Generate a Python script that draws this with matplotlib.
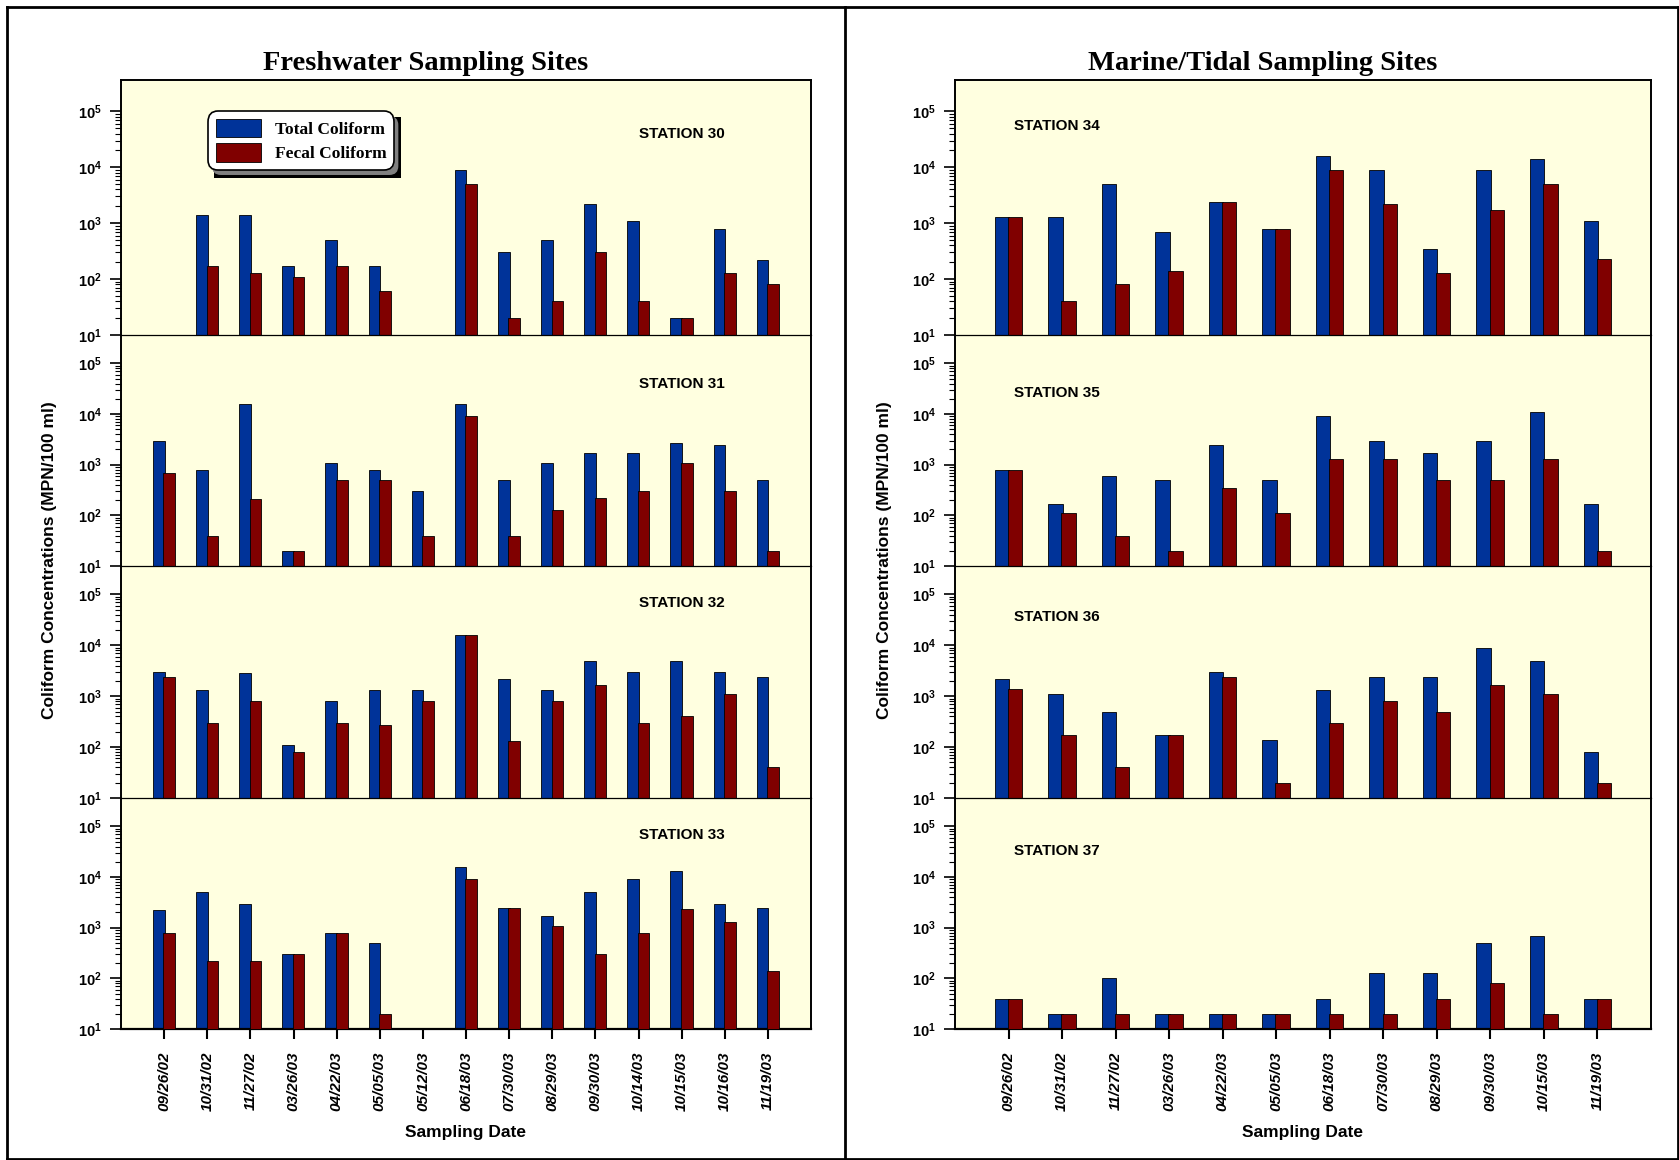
import numpy as np
import matplotlib
matplotlib.use('Agg')
import matplotlib.pyplot as plt
from matplotlib.ticker import FixedLocator, LogFormatterMathtext, NullFormatter
from matplotlib.patches import Rectangle, FancyBboxPatch
from matplotlib.lines import Line2D
from matplotlib.transforms import IdentityTransform

plt.rcParams['font.family'] = ['Liberation Sans', 'DejaVu Sans']
plt.rcParams['font.weight'] = 'bold'
plt.rcParams['mathtext.fontset'] = 'custom'
plt.rcParams['mathtext.rm'] = 'Liberation Sans:bold'
plt.rcParams['mathtext.bf'] = 'Liberation Sans:bold'

nan = np.nan

# sampling dates
fresh_dates = ['09/26/02', '10/31/02', '11/27/02', '03/26/03', '04/22/03', '05/05/03', '05/12/03',
               '06/18/03', '07/30/03', '08/29/03', '09/30/03', '10/14/03', '10/15/03', '10/16/03', '11/19/03']
marine_dates = ['09/26/02', '10/31/02', '11/27/02', '03/26/03', '04/22/03', '05/05/03',
                '06/18/03', '07/30/03', '08/29/03', '09/30/03', '10/15/03', '11/19/03']

# freshwater stations (MPN/100 ml)
st30_total = [nan, 1400, 1400, 170, 500, 170, nan, 9000, 300, 500, 2200, 1100, 20, 800, 220]
st30_fecal = [nan, 170, 130, 110, 170, 60, nan, 5000, 20, 40, 300, 40, 20, 130, 80]
st31_total = [3000, 800, 16000, 20, 1100, 800, 300, 16000, 500, 1100, 1700, 1700, 2700, 2400, 500]
st31_fecal = [700, 40, 210, 20, 500, 500, 40, 9000, 40, 130, 220, 300, 1100, 300, 20]
st32_total = [3000, 1300, 2800, 110, 800, 1300, 1300, 16000, 2200, 1300, 5000, 3000, 5000, 3000, 2400]
st32_fecal = [2400, 300, 800, 80, 300, 270, 800, 16000, 130, 800, 1700, 300, 400, 1100, 40]
st33_total = [2200, 5000, 3000, 300, 800, 500, nan, 16000, 2400, 1700, 5000, 9000, 13000, 3000, 2400]
st33_fecal = [800, 220, 220, 300, 800, 20, nan, 9000, 2400, 1100, 300, 800, 2300, 1300, 140]

# marine/tidal stations
st34_total = [1300, 1300, 5000, 700, 2400, 800, 16000, 9000, 350, 9000, 14000, 1100]
st34_fecal = [1300, 40, 80, 140, 2400, 800, 9000, 2200, 130, 1700, 5000, 230]
st35_total = [800, 170, 600, 500, 2400, 500, 9000, 3000, 1700, 3000, 11000, 170]
st35_fecal = [800, 110, 40, 20, 340, 110, 1300, 1300, 500, 500, 1300, 20]
st36_total = [2200, 1100, 500, 170, 3000, 140, 1300, 2400, 2400, 9000, 5000, 80]
st36_fecal = [1400, 170, 40, 170, 2400, 20, 300, 800, 500, 1700, 1100, 20]
st37_total = [40, 20, 100, 20, 20, 20, 40, 130, 130, 500, 700, 40]
st37_fecal = [40, 20, 20, 20, 20, 20, 20, 20, 40, 80, 20, 40]

fresh = [('STATION 30', st30_total, st30_fecal), ('STATION 31', st31_total, st31_fecal),
         ('STATION 32', st32_total, st32_fecal), ('STATION 33', st33_total, st33_fecal)]
marine = [('STATION 34', st34_total, st34_fecal), ('STATION 35', st35_total, st35_fecal),
          ('STATION 36', st36_total, st36_fecal), ('STATION 37', st37_total, st37_fecal)]

W, H = 1679, 1160
def fx(px):
    return px / W
def fy(py):
    return 1 - py / H

fig = plt.figure(figsize=(W / 100, H / 100), dpi=100)

rows = [80, 335, 566, 798, 1029]
blue = '#003399'
red = '#800000'
bg = '#FFFFE0'

def make_side(panels, dates, x0, x1, lab_x, lab_ha, lab_y):
    axes = []
    x = np.arange(len(dates))
    for i, (name, tot, fec) in enumerate(panels):
        ax = fig.add_axes([fx(x0), fy(rows[i + 1]), fx(x1) - fx(x0), (rows[i + 1] - rows[i]) / H])
        ax.set_facecolor(bg)
        ax.set_yscale('log')
        tot = np.array(tot, dtype=float)
        fec = np.array(fec, dtype=float)
        ax.bar(x - 0.125, tot - 10, bottom=10, width=0.27, color=blue, edgecolor='black',
               linewidth=0.6, label='Total Coliform', zorder=2)
        ax.bar(x + 0.12, fec - 10, bottom=10, width=0.27, color=red, edgecolor='black',
               linewidth=0.6, label='Fecal Coliform', zorder=3)
        ax.set_xlim(-1, len(dates))
        ax.set_ylim(10, 10 ** 5.56)
        ax.yaxis.set_major_locator(FixedLocator([10, 100, 1e3, 1e4, 1e5]))
        ax.yaxis.set_major_formatter(LogFormatterMathtext())
        ax.yaxis.set_minor_locator(FixedLocator([k * 10 ** d for d in range(1, 5) for k in range(2, 10)]))
        ax.yaxis.set_minor_formatter(NullFormatter())
        ax.tick_params(axis='y', which='major', direction='out', length=8, width=1.2, labelsize=10.5, pad=6)
        ax.tick_params(axis='y', which='minor', direction='out', length=4.5, width=0.8)
        for s in ['left', 'right']:
            ax.spines[s].set_linewidth(1.4)
        # panel separators: top spine of each lower panel (drawn over the panel above)
        if i == 0:
            ax.spines['top'].set_linewidth(1.4)
        else:
            ax.spines['top'].set_linewidth(0.9)
        if i < 3:
            ax.spines['bottom'].set_visible(False)
            ax.tick_params(axis='x', bottom=False, labelbottom=False)
        else:
            ax.spines['bottom'].set_linewidth(1.6)
            ax.set_xticks(x)
            ax.set_xticklabels(dates, rotation=90, fontstyle='italic', fontsize=11)
            ax.tick_params(axis='x', direction='out', length=7.5, width=1.5, pad=9)
        ax.text(lab_x, lab_y[i], name, transform=ax.transAxes, ha=lab_ha, va='center', fontsize=11)
        axes.append(ax)
    return axes

left_axes = make_side(fresh, fresh_dates, 121, 811, 0.813, 'center', [0.79, 0.79, 0.84, 0.84])
right_axes = make_side(marine, marine_dates, 955, 1651, 0.085, 'left', [0.82, 0.75, 0.78, 0.77])

# legend
ax0 = left_axes[0]
leg = ax0.legend(loc='upper left', bbox_to_anchor=(0.126, 0.878), borderaxespad=0,
                 prop={'family': 'Liberation Serif', 'weight': 'bold', 'size': 12.5},
                 fancybox=True, framealpha=1, edgecolor='black', handlelength=2.6, handleheight=1.25,
                 handletextpad=0.8, labelspacing=0.3, borderpad=0.45)
leg.get_frame().set_boxstyle('round', pad=0, rounding_size=0.6)
leg.get_frame().set_linewidth(1.2)
leg.set_zorder(6)
fig.canvas.draw()
bb = leg.get_window_extent()
ax0.add_patch(Rectangle((bb.x0 + 6, bb.y0 - 8), bb.width + 1, bb.height + 2, transform=IdentityTransform(),
                        facecolor='black', edgecolor='none', zorder=4, clip_on=False))
ax0.add_patch(FancyBboxPatch((bb.x0 + 4, bb.y0 - 5), bb.width, bb.height,
                             boxstyle='round,pad=0,rounding_size=9', transform=IdentityTransform(),
                             facecolor='0.5', edgecolor='none', zorder=5, clip_on=False))

# titles and axis labels
fig.text(fx(426), fy(63), 'Freshwater Sampling Sites', family='Liberation Serif', weight='bold',
         fontsize=20.5, ha='center', va='center')
fig.text(fx(1263), fy(63), 'Marine/Tidal Sampling Sites', family='Liberation Serif', weight='bold',
         fontsize=20.5, ha='center', va='center')
fig.text(fx(50), fy(560), 'Coliform Concentrations (MPN/100 ml)', rotation=90, fontsize=12.5,
         ha='center', va='center')
fig.text(fx(884), fy(560), 'Coliform Concentrations (MPN/100 ml)', rotation=90, fontsize=12.5,
         ha='center', va='center')
fig.text(fx(466), fy(1133), 'Sampling Date', fontsize=12.5, ha='center', va='center')
fig.text(fx(1303), fy(1133), 'Sampling Date', fontsize=12.5, ha='center', va='center')

# outer frame and divider
for (xa, ya, xb, yb) in [(7, 7, 1678, 7), (7, 1159, 1678, 1159), (7, 7, 7, 1159),
                         (1678, 7, 1678, 1159), (845, 7, 845, 1159)]:
    fig.add_artist(Line2D([fx(xa), fx(xb)], [fy(ya), fy(yb)], color='black', linewidth=2,
                          transform=fig.transFigure))

fig.savefig('out.png', dpi=100)
